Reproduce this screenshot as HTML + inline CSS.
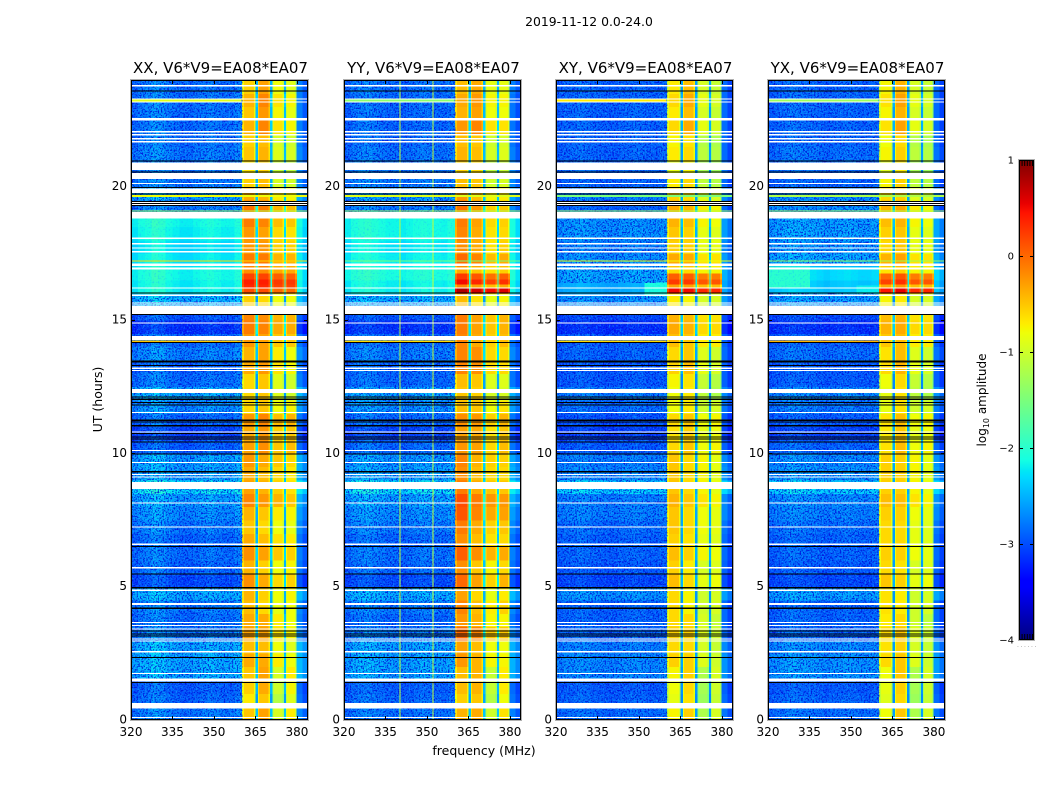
<!DOCTYPE html>
<html>
<head>
<meta charset="utf-8">
<title>2019-11-12 0.0-24.0</title>
<style>
html,body{margin:0;padding:0;background:#fff;width:1050px;height:800px;overflow:hidden}
svg{display:block}
text{font-family:"DejaVu Sans","Liberation Sans",sans-serif;fill:#000}
</style>
</head>
<body>
<svg id="figure" width="1050" height="800" viewBox="0 0 1050 800" xmlns="http://www.w3.org/2000/svg">
<defs>
<filter id="speckle-dark" x="0" y="0" width="100%" height="100%" color-interpolation-filters="sRGB">
<feTurbulence type="fractalNoise" baseFrequency="0.62" numOctaves="2" seed="4"/>
<feColorMatrix type="matrix" values="0 0 0 0 0  0 0 0 0 0.05  0 0 0 0 0.85  6 0 0 0 -2.9"/>
</filter>
<filter id="speckle-light" x="0" y="0" width="100%" height="100%" color-interpolation-filters="sRGB">
<feTurbulence type="fractalNoise" baseFrequency="0.55" numOctaves="2" seed="11"/>
<feColorMatrix type="matrix" values="0 0 0 0 0.1  0 0 0 0 0.75  0 0 0 0 1  0 5 0 0 -2.7"/>
</filter>
<linearGradient id="colorbar-gradient" x1="0" y1="1" x2="0" y2="0"></linearGradient>
</defs>
<text x="589" y="26" text-anchor="middle" font-size="12.4">2019-11-12 0.0-24.0</text>
<text x="484" y="755" text-anchor="middle" font-size="12.5">frequency (MHz)</text>
<text transform="translate(102,399.5) rotate(-90)" text-anchor="middle" font-size="12.5">UT (hours)</text>
<text transform="translate(986,400) rotate(-90)" text-anchor="middle" font-size="12">log<tspan font-size="8" dy="3">10</tspan><tspan dy="-3"> amplitude</tspan></text>
<text x="1017" y="647" font-size="6" fill="#888" style="fill:#888" letter-spacing="1.6">......</text>
<g id="panels"></g>
<g id="colorbar"></g>
</svg>
<script>
// ---- Categories and axis labels ----
const panelNames = ['XX', 'YY', 'XY', 'YX'];
const titleSuffix = ', V6*V9=EA08*EA07';
const freqTicks = [320, 335, 350, 365, 380];
const utTicks = [0, 5, 10, 15, 20];
const colorbarTicks = [-4, -3, -2, -1, 0, 1];

// ---- Frequency channel edges (MHz) ----
const bgFreqEdges = [320, 322.5, 325, 327.5, 330, 332.5, 335, 337.5, 340, 342.5, 345, 347.5, 350, 352.5, 355, 357.5, 360.2];
const bandFreqEdges = [360.2, 365.1, 365.7, 370.3, 370.9, 375.3, 375.8, 379.9];
const edgeFreqEdges = [379.9, 382, 384];

// ---- UT row width (hours); level arrays hold one value per row ----
const rowHours = 0.5;

// ---- Background log10 amplitude per UT row ----
const bgXX = [-2.7,-2.8,-2.85,-2.45,-2.45,-2.45,-2.7,-2.75,-2.7,-2.45,-2.95,-2.8,-2.75,-2.8,-2.7,-2.6,-2.5,-2.2,-2.5,-2.5,-2.85,-3,-2.8,-2.6,-2.45,-2.75,-2.8,-2.65,-2.8,-3.1,-2.9,-2.4,-2.15,-2.1,-2.2,-2.25,-2.15,-2.1,-2.7,-2.5,-2.7,-2.7,-2.7,-2.75,-2.75,-2.75,-2.75,-2.75];
const bgYY = [-2.75,-2.8,-2.85,-2.5,-2.5,-2.5,-2.7,-2.8,-2.7,-2.45,-2.95,-2.8,-2.75,-2.8,-2.7,-2.6,-2.5,-2.2,-2.5,-2.55,-2.8,-3,-2.8,-2.6,-2.5,-2.8,-2.8,-2.7,-2.8,-3.1,-2.9,-2.45,-2.15,-2.05,-2.15,-2.2,-2.1,-2.1,-2.7,-2.55,-2.7,-2.7,-2.75,-2.8,-2.8,-2.8,-2.8,-2.75];
const bgXY = [-2.8,-2.85,-2.9,-2.65,-2.65,-2.7,-2.85,-2.85,-2.85,-2.6,-3,-2.9,-2.85,-2.85,-2.8,-2.7,-2.7,-2.3,-2.65,-2.7,-2.9,-3.05,-2.95,-2.8,-2.7,-2.9,-2.9,-2.85,-2.9,-3.15,-3,-2.6,-2.55,-2.5,-2.6,-2.7,-2.6,-2.6,-2.85,-2.7,-2.85,-2.8,-2.85,-2.85,-2.85,-2.85,-2.85,-2.85];
const bgYX = [-2.8,-2.85,-2.9,-2.6,-2.6,-2.65,-2.85,-2.85,-2.85,-2.55,-3,-2.9,-2.85,-2.85,-2.8,-2.7,-2.65,-2.3,-2.6,-2.65,-2.85,-3.05,-2.9,-2.75,-2.65,-2.9,-2.9,-2.8,-2.9,-3.15,-3,-2.55,-2.4,-2.3,-2.5,-2.6,-2.55,-2.55,-2.85,-2.7,-2.85,-2.8,-2.8,-2.85,-2.85,-2.85,-2.85,-2.85];

// ---- Bright band log10 amplitude per UT row ----
const bandXX = [-.5,-.7,-.55,-.5,-.5,-.6,-.45,-.5,-.65,-.6,-.4,-.6,-.4,-.55,-.7,-.6,-.35,-.5,-.55,-.45,-.35,-.4,-.3,-.65,-.7,-.7,-.45,-.5,-.4,-.25,-.3,-.7,-.2,-.2,-.25,-.4,-.4,-.25,-.2,-.5,-.6,-.7,-.55,-.6,-.45,-.55,-.45,-.6];
const bandYY = [-.5,-.65,-.55,-.55,-.5,-.55,-.25,-.5,-.45,-.6,-.3,-.5,-.25,-.5,-.4,-.2,-.15,-.4,-.5,-.45,-.4,-.45,-.35,-.6,-.7,-.65,-.35,-.35,-.4,-.35,-.35,-.7,-.2,-.2,-.25,-.45,-.4,-.35,-.3,-.5,-.6,-.7,-.55,-.6,-.4,-.55,-.5,-.6];
const bandXY = [-.7,-.8,-.75,-.7,-.65,-.7,-.65,-.7,-.75,-.75,-.6,-.7,-.6,-.7,-.65,-.65,-.55,-.65,-.65,-.65,-.6,-.65,-.6,-.8,-.85,-.8,-.6,-.65,-.55,-.45,-.5,-.8,-.3,-.3,-.45,-.65,-.6,-.5,-.45,-.65,-.7,-.85,-.7,-.75,-.6,-.7,-.6,-.7];
const bandYX = [-.7,-.8,-.75,-.7,-.65,-.7,-.65,-.75,-.75,-.75,-.6,-.7,-.65,-.7,-.7,-.65,-.55,-.65,-.65,-.65,-.6,-.65,-.6,-.8,-.85,-.8,-.6,-.65,-.55,-.45,-.5,-.8,-.3,-.3,-.45,-.65,-.6,-.5,-.45,-.65,-.7,-.85,-.7,-.75,-.6,-.7,-.6,-.7];

// ---- Band contrast per 2-hour block, one row per block: four bright bands ----
const blockHours = 2;
const bandBlockShape = [
  [-.05,.15,-.35,-.1],[.1,.1,-.1,-.2],[.15,0,-.1,-.05],[.15,.05,0,-.05],
  [.15,.05,.05,-.05],[0,.1,-.05,0],[.05,.15,-.1,-.2],[.1,.05,0,0],
  [.1,.1,-.05,-.05],[.1,.05,-.1,-.15],[0,.1,-.25,-.3],[0,.25,-.1,-.2]
];

// ---- Bright-band time patches: [UT start, UT end, XX, YY, XY, YX] log10 amplitude ----
const bandPatches = [
  [16.01,16.24,.1,.65,.5,.5],
  [16.24,16.35,.3,-.3,-.3,-.3],
  [16.35,16.54,.35,.35,.25,.25],
  [16.54,16.76,.15,.1,.05,.05],
  [16.76,17,-.25,-.5,-.6,-.6]
];

// ---- Per-polarization channel contrast ----
const bgShapeXX = [-.1,0,.05,.18,.12,0,-.05,-.1,-.1,-.05,0,.05,0,-.05,-.05,.05];
const bgShapeYY = [-.1,.02,.08,.12,.05,0,-.05,-.05,-.1,-.05,0,.05,.02,-.03,-.05,.03];
const bgShapeXY = [-.05,0,.02,.08,.05,0,-.02,-.05,-.05,0,.02,.05,.02,-.02,-.02,.02];
const bgShapeYX = [-.05,0,.05,.12,.08,.05,.05,0,-.05,0,.02,.05,.02,-.02,-.02,.02];
const bandShiftXX = [.05,.05,-.1,-.1];
const bandShiftYY = [.15,0,-.15,-.05];
const bandShiftXY = [0,0,-.15,-.15];
const bandShiftYX = [-.05,.05,-.15,-.15];
const bandEdgeFraction = 0.13;
const bandEdgeDrop = -.25;
const gapChannelDrop = -1.9;
const edgeChannelLift = [0,-.2];

// ---- Narrow interference channels [MHz, log10 amplitude] in the YY panel ----
const rfiChannelsYY = [[340,-1.1],[352,-1.1]];

// ---- Background patches [panel index, UT start, UT end, MHz start, MHz end, log10 amplitude] ----
const bgPatches = [
  [3,16.2,17,320,335,-2],
  [2,15.9,16.4,352,360,-2.1],
  [3,16,16.3,352,360,-2.2],
  [3,19.1,19.6,320,360,-2.6]
];

// ---- Single-row bright streaks [UT start, UT end, MHz end, XX, YY, XY, YX] ----
const streakRows = [
  [23.2,23.26,360,-.9,-1.4,-.7,-1.3],
  [19.61,19.69,384,-.8,-.9,-1.5,-1.2],
  [19.07,19.1,384,-1.2,-1.2,-1.2,-1.2],
  [17.19,17.23,384,-.6,-1.5,-.8,-1.3],
  [14.18,14.24,360,-.5,-.6,-.6,-.4]
];

// ---- UT ranges with low-noise background, per panel [UT start, UT end] ----
const quietRangesXX = [[15.9,19.05]];
const quietRangesYY = [[15.9,19.05]];
const quietRangesXY = [[15.9,16.4]];
const quietRangesYX = [[16,17.1]];

// ---- Flagged UT ranges (hours) ----
const whiteGaps = [
  [23.76,23.81],[23.27,23.3],[23.16,23.19],[22.48,22.58],[22.03,22.09],[21.92,21.98],[21.77,21.83],[21.66,21.71],
  [20.63,20.91],[20.28,20.52],[20.1,20.14],[19.76,19.94],[19.39,19.42],[19.31,19.35],[18.81,19.05],
  [18.04,18.09],[17.83,17.89],[17.68,17.72],[17.53,17.59],[17.03,17.12],[16.9,16.97],[16.18,16.22],
  [15.9,15.96],[15.62,15.66],[15.54,15.58],[15.23,15.53],[14.87,14.91],[14.25,14.4],
  [13.17,13.22],[13.08,13.13],[12.27,12.41],[11.51,11.55],[10.78,10.82],[10.09,10.13],[9.64,9.68],
  [9.19,9.23],[9.09,9.13],[8.66,8.93],[8.11,8.15],[7.22,7.26],[6.57,6.61],[5.69,5.74],[4.83,4.89],
  [4.32,4.38],[3.63,3.67],[3.53,3.57],[3.4,3.44],[3.01,3.05],[2.95,2.99],[2.53,2.59],[1.72,1.77],
  [1.45,1.55],[.44,.63],[.08,.12]
];
const blackLines = [
  [23.56,23.6],[20.95,20.99],[20.53,20.57],[19.95,19.98],[19.71,19.75],[19.42,19.46],[19.35,19.39],[19.27,19.31],
  [16,16.04],[15.19,15.23],[14.13,14.17],[13.41,13.48],[13.28,13.32],[12.1,12.14],[12,12.05],
  [11.89,11.93],[11.8,11.84],[11.22,11.26],[11.16,11.2],[11.01,11.06],[10.73,10.77],[10.6,10.64],
  [10.51,10.55],[10.41,10.45],[9.96,10],[9.28,9.33],[6.49,6.53],[5.46,5.5],[4.94,4.98],[4.17,4.21],
  [3.32,3.36],[3.21,3.25],[3.13,3.17],[2.32,2.36],[1.39,1.43]
];

// ---- Axis functions ----
const svgNS = 'http://www.w3.org/2000/svg';
const panelLefts = [131, 344, 556, 768];
const panelWidth = 177;
const plotTop = 80;
const plotBottom = 720;
const freqMin = 320;
const freqMax = 384;
const utMax = 24;
const colorMin = -4;
const colorMax = 1;
function xScale(panel, f) { return panelLefts[panel] + (f - freqMin) / (freqMax - freqMin) * panelWidth; }
function yScale(h) { return plotBottom - h / utMax * (plotBottom - plotTop); }

function ramp(t, pts) {
  for (let i = 1; i < pts.length; i++) {
    if (t <= pts[i][0]) {
      const a = pts[i - 1], b = pts[i];
      return a[1] + (b[1] - a[1]) * (t - a[0]) / (b[0] - a[0]);
    }
  }
  return pts[pts.length - 1][1];
}
function jet(t) {
  t = Math.max(0, Math.min(1, t));
  const r = ramp(t, [[0,0],[.35,0],[.66,1],[.89,1],[1,.5]]);
  const g = ramp(t, [[0,0],[.125,0],[.375,1],[.64,1],[.91,0],[1,0]]);
  const b = ramp(t, [[0,.5],[.11,1],[.34,1],[.65,0],[1,0]]);
  return 'rgb(' + Math.round(r * 255) + ',' + Math.round(g * 255) + ',' + Math.round(b * 255) + ')';
}
function colorOf(v) { return jet((v - colorMin) / (colorMax - colorMin)); }

function rect(parent, x, y, w, h, fill) {
  const el = document.createElementNS(svgNS, 'rect');
  el.setAttribute('x', x);
  el.setAttribute('y', y);
  el.setAttribute('width', w);
  el.setAttribute('height', h);
  el.setAttribute('fill', fill);
  parent.appendChild(el);
  return el;
}
function line(parent, x1, y1, x2, y2, stroke) {
  const el = document.createElementNS(svgNS, 'line');
  el.setAttribute('x1', x1);
  el.setAttribute('y1', y1);
  el.setAttribute('x2', x2);
  el.setAttribute('y2', y2);
  el.setAttribute('stroke', stroke);
  el.setAttribute('stroke-width', 1);
  parent.appendChild(el);
  return el;
}
function label(parent, x, y, str, size, anchor) {
  const el = document.createElementNS(svgNS, 'text');
  el.setAttribute('x', x);
  el.setAttribute('y', y);
  el.setAttribute('font-size', size);
  el.setAttribute('text-anchor', anchor);
  el.textContent = str;
  parent.appendChild(el);
  return el;
}

const bgLevels = [bgXX, bgYY, bgXY, bgYX];
const bandLevels = [bandXX, bandYY, bandXY, bandYX];
const bgShapes = [bgShapeXX, bgShapeYY, bgShapeXY, bgShapeYX];
const bandShifts = [bandShiftXX, bandShiftYY, bandShiftXY, bandShiftYX];
const quietRanges = [quietRangesXX, quietRangesYY, quietRangesXY, quietRangesYX];
const panelsRoot = document.getElementById('panels');

function heatCell(parent, p, f0, f1, h0, h1, v) {
  const x0 = xScale(p, f0);
  const x1 = xScale(p, f1);
  const y0 = yScale(h0);
  const y1 = yScale(h1);
  const cell = rect(parent, x0, y1, x1 - x0 + .5, y0 - y1 + .5, colorOf(v));
  
  
  return cell;
}
// A bright band is drawn as three sub-channels: dimmer at both edges.
function bandCells(parent, p, b, h0, h1, v) {
  const f0 = bandFreqEdges[b * 2];
  const f1 = bandFreqEdges[b * 2 + 1];
  const w = (f1 - f0) * bandEdgeFraction;
  heatCell(parent, p, f0, f0 + w, h0, h1, v + bandEdgeDrop);
  heatCell(parent, p, f0 + w, f1 - w, h0, h1, v);
  heatCell(parent, p, f1 - w, f1, h0, h1, v + bandEdgeDrop);
}

panelNames.forEach(function (name, p) {
  const left = panelLefts[p];
  const g = document.createElementNS(svgNS, 'g');
  
  
  panelsRoot.appendChild(g);

  const title = label(g, left + panelWidth / 2 + 1, 73, name + titleSuffix, 15, 'middle');
  
  

  const cells = document.createElementNS(svgNS, 'g');
  cells.setAttribute('shape-rendering', 'crispEdges');
  
  
  g.appendChild(cells);

  bgLevels[p].forEach(function (level, r) {
    const h0 = r * rowHours;
    const h1 = (r + 1) * rowHours;
    for (let c = 0; c + 1 < bgFreqEdges.length; c++) {
      heatCell(cells, p, bgFreqEdges[c], bgFreqEdges[c + 1], h0, h1, level + bgShapes[p][c]);
    }
    const block = bandBlockShape[Math.floor(r * rowHours / blockHours)];
    for (let b = 0; b < 4; b++) {
      bandCells(cells, p, b, h0, h1, bandLevels[p][r] + block[b] + bandShifts[p][b]);
    }
    for (let c = 1; c + 1 < bandFreqEdges.length; c += 2) {
      heatCell(cells, p, bandFreqEdges[c], bandFreqEdges[c + 1], h0, h1, bandLevels[p][r] + gapChannelDrop);
    }
    for (let c = 0; c + 1 < edgeFreqEdges.length; c++) {
      heatCell(cells, p, edgeFreqEdges[c], edgeFreqEdges[c + 1], h0, h1, level + edgeChannelLift[c]);
    }
  });

  bandPatches.forEach(function (patch) {
    for (let b = 0; b < 4; b++) {
      bandCells(cells, p, b, patch[0], patch[1], patch[2 + p] + bandShifts[p][b]);
    }
  });
  bgPatches.forEach(function (patch) {
    if (patch[0] === p) {
      heatCell(cells, p, patch[3], patch[4], patch[1], patch[2], patch[5]);
    }
  });

  // channel-noise texture over the background region, skipped in the quiet UT ranges
  const texX = xScale(p, bgFreqEdges[0]);
  const texW = xScale(p, bgFreqEdges[bgFreqEdges.length - 1]) - texX;
  const texBreaks = [0];
  quietRanges[p].forEach(function (q) { texBreaks.push(q[0], q[1]); });
  texBreaks.push(utMax);
  for (let i = 0; i + 1 < texBreaks.length; i += 2) {
    const yA = yScale(texBreaks[i + 1]);
    const yB = yScale(texBreaks[i]);
    const dark = rect(g, texX, yA, texW, yB - yA, '#000');
    dark.setAttribute('filter', 'url(#speckle-dark)');
    dark.setAttribute('opacity', '.85');
    
    
  }
  const light = rect(g, texX, plotTop, texW, plotBottom - plotTop, '#000');
  light.setAttribute('filter', 'url(#speckle-light)');
  light.setAttribute('opacity', '.45');
  
  

  const flags = document.createElementNS(svgNS, 'g');
  flags.setAttribute('shape-rendering', 'crispEdges');
  
  
  g.appendChild(flags);

  if (name === 'YY') {
    rfiChannelsYY.forEach(function (ch) {
      const el = rect(flags, xScale(p, ch[0]), plotTop, 1, plotBottom - plotTop, colorOf(ch[1]));
      
      
    });
  }
  streakRows.forEach(function (s) {
    const el = rect(flags, left, yScale(s[1]), xScale(p, s[2]) - left, Math.max(1, yScale(s[0]) - yScale(s[1])), colorOf(s[3 + p]));
    
    
  });
  whiteGaps.forEach(function (s) {
    const el = rect(flags, left, yScale(s[1]), panelWidth, Math.max(1, yScale(s[0]) - yScale(s[1])), '#fff');
    
    
  });
  blackLines.forEach(function (s) {
    const el = rect(flags, left, yScale(s[1]), panelWidth, Math.max(1, yScale(s[0]) - yScale(s[1])), '#000');
    
    
  });

  // ticks and tick labels
  freqTicks.forEach(function (f) {
    const x = Math.round(xScale(p, f)) + .5;
    const t1 = line(g, x, plotBottom, x, plotBottom - 4, '#000');
    
    
    const t2 = line(g, x, plotTop, x, plotTop + 4, '#000');
    
    
    const l = label(g, xScale(p, f), 736, String(f), 12, 'middle');
    
    
  });
  utTicks.forEach(function (h) {
    const y = Math.round(yScale(h)) + .5;
    const t1 = line(g, left, y, left + 4, y, '#000');
    
    
    const t2 = line(g, left + panelWidth, y, left + panelWidth - 4, y, '#000');
    
    
    const l = label(g, left - 4, yScale(h) + 3.5, String(h), 12, 'end');
    
    
  });

  // frame
  const outer = rect(g, left - .5, plotTop - .5, panelWidth + 1, plotBottom - plotTop + 1, 'none');
  outer.setAttribute('stroke', '#b0b0b0');
  
  
  const inner = rect(g, left + .5, plotTop + .5, panelWidth - 1, plotBottom - plotTop - 1, 'none');
  inner.setAttribute('stroke', '#000');
  
  
});

// ---- Colorbar ----
const cbLeft = 1019;
const cbWidth = 15;
const cbTop = 160;
const cbBottom = 640;
function cbScale(v) { return cbBottom - (v - colorMin) / (colorMax - colorMin) * (cbBottom - cbTop); }
const cbRoot = document.getElementById('colorbar');
const grad = document.getElementById('colorbar-gradient');
[0,.03,.06,.09,.11,.125,.2,.3,.34,.35,.375,.45,.5,.55,.64,.65,.66,.75,.85,.89,.91,.95,1].forEach(function (t) {
  const st = document.createElementNS(svgNS, 'stop');
  st.setAttribute('offset', t);
  st.setAttribute('stop-color', jet(t));
  grad.appendChild(st);
});
const cbFill = rect(cbRoot, cbLeft, cbTop, cbWidth, cbBottom - cbTop, 'url(#colorbar-gradient)');


colorbarTicks.forEach(function (v) {
  const y = Math.round(cbScale(v)) + .5;
  const t1 = line(cbRoot, cbLeft, y, cbLeft + 4, y, '#000');
  
  
  const t2 = line(cbRoot, cbLeft + cbWidth, y, cbLeft + cbWidth - 4, y, '#000');
  
  
  const txt = v < 0 ? '\u2212' + Math.abs(v) : String(v);
  const l = label(cbRoot, cbLeft - 5, cbScale(v) + 3.5, txt, 10, 'end');
  
  
});
[1,2,3,4,5].forEach(function (n) {
  const x = cbLeft + n * 2.6 + .5;
  const t1 = line(cbRoot, x, cbTop, x, cbTop + 6, '#000');
  
  
  const t2 = line(cbRoot, x, cbBottom, x, cbBottom - 6, '#000');
  
  
});
const cbOuter = rect(cbRoot, cbLeft - .5, cbTop - .5, cbWidth + 1, cbBottom - cbTop + 1, 'none');
cbOuter.setAttribute('stroke', '#b0b0b0');


const cbInner = rect(cbRoot, cbLeft + .5, cbTop + .5, cbWidth - 1, cbBottom - cbTop - 1, 'none');
cbInner.setAttribute('stroke', '#000');


</script>
</body>
</html>
